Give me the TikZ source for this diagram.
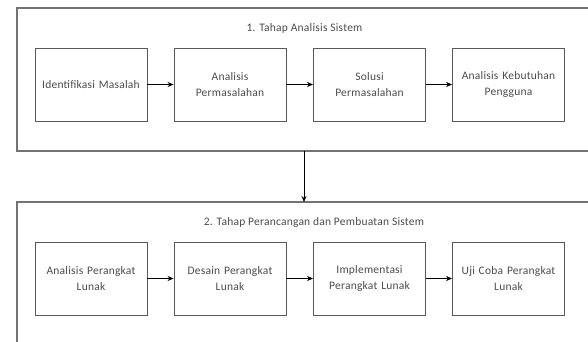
\documentclass[tikz,border=0pt]{standalone}
\usepackage{fontspec}
\setmainfont{Carlito}[LetterSpace=2]
\usetikzlibrary{arrows.meta}
\begin{document}
\begin{tikzpicture}[x=1pt,y=-1pt,
  frame/.style={draw=black!55, line width=1.1pt},
  stage/.style={draw=black!65, line width=0.9pt, minimum width=112pt, minimum height=73pt, align=center, font=\fontsize{11.5}{15.5}\selectfont, text=black!70, inner sep=1pt, text width=110pt},
  title/.style={font=\fontsize{11.5}{14}\selectfont, text=black!70},
  conn/.style={draw=black, line width=0.7pt, -{Stealth[length=6pt,width=5pt]}}]
\useasboundingbox (0,0) rectangle (588,341);
\clip (0,0) rectangle (588,341);
\fill[white] (0,0) rectangle (588,341);
\draw[frame] (620,8) -- (17,8) -- (17,151) -- (620,151);
\draw[frame] (620,202) -- (17,202) -- (17,360);
\node[title] (t1) at (304.5,28) {1. Tahap Analisis Sistem};
\node[title] (t2) at (314,222) {2. Tahap Perancangan dan Pembuatan Sistem};
\node[stage] (a1) at (91,84.5) {Identifikasi Masalah};
\node[stage] (a2) at (230,84.5) {Analisis\\Permasalahan};
\node[stage] (a3) at (369.5,84.5) {Solusi\\Permasalahan};
\node[stage] (a4) at (508.5,84.5) {Analisis Kebutuhan\\Pengguna};
\node[stage] (b1) at (91,278.5) {Analisis Perangkat\\Lunak};
\node[stage] (b2) at (230,278.5) {Desain Perangkat\\Lunak};
\node[stage] (b3) at (369.5,278.5) {Implementasi\\Perangkat Lunak};
\node[stage] (b4) at (508.5,278.5) {Uji Coba Perangkat\\Lunak};
\coordinate (f1) at (304,151);
\coordinate (f2) at (304,202);
\draw[conn] (a1) -- (a2);
\draw[conn] (a2) -- (a3);
\draw[conn] (a3) -- (a4);
\draw[conn] (b1) -- (b2);
\draw[conn] (b2) -- (b3);
\draw[conn] (b3) -- (b4);
\draw[conn] (f1) -- (f2);
\end{tikzpicture}
\end{document}
